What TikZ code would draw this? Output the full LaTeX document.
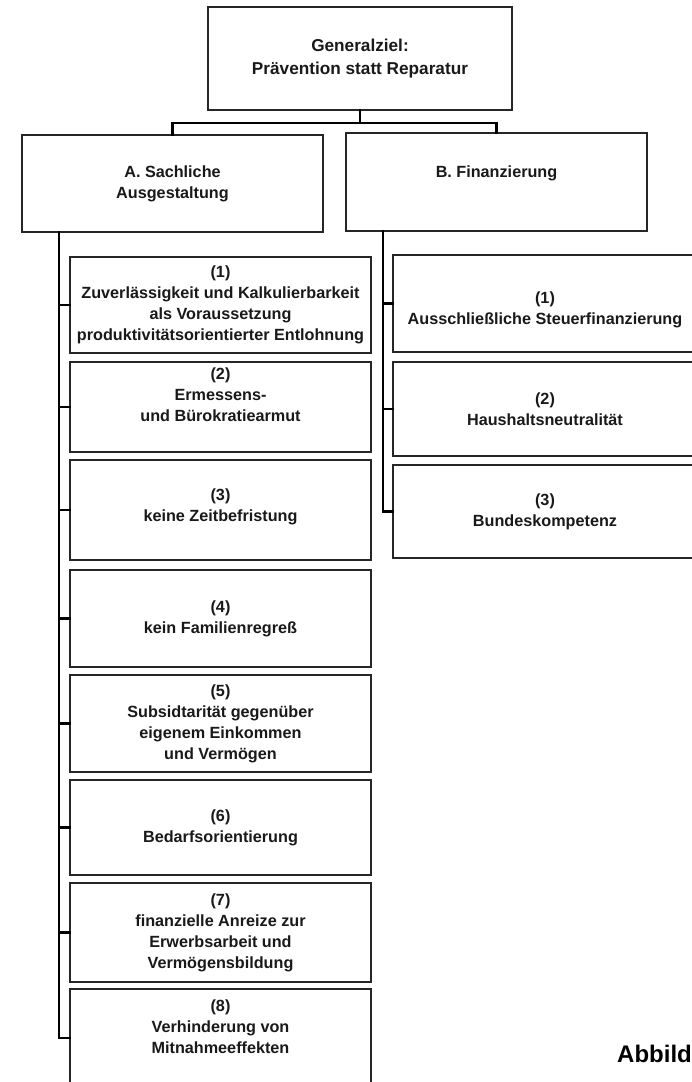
\documentclass[tikz,border=0pt]{standalone}
\usepackage{fontspec}
\setmainfont{Liberation Sans}
\begin{document}
\begin{tikzpicture}[x=1pt,y=-1pt,
  box/.style={draw=black!85,line width=1.2pt,fill=white,inner sep=0pt,align=center,
    font=\bfseries\fontsize{16.2}{21}\selectfont,text=black!90},
  conn/.style={draw=black,line width=2.4pt,line cap=rect}]
\useasboundingbox (0,0) rectangle (692,1082);
\clip (0,0) rectangle (692,1082);
% top
\node[box,minimum width=304,minimum height=103,font=\bfseries\fontsize{17.2}{23}\selectfont] (top) at (360,58.5) {Generalziel:\\Prävention statt Reparatur};
\node[box,minimum width=301,minimum height=97] (A) at (172.5,183.5) {A. Sachliche\\Ausgestaltung};
\node[box,minimum width=301,minimum height=98] (B) at (496.5,182) {B. Finanzierung\\};
% left column
\node[box,minimum width=301,minimum height=96] (L1) at (220.5,305) {(1)\\Zuverlässigkeit und Kalkulierbarkeit\\als Voraussetzung\\produktivitätsorientierter Entlohnung};
\node[box,minimum width=301,minimum height=90] (L2) at (220.5,407) {(2)\\Ermessens-\\und Bürokratiearmut\\[3pt]};
\node[box,minimum width=301,minimum height=100] (L3) at (220.5,510) {(3)\\keine Zeitbefristung\\[-11pt]};
\node[box,minimum width=301,minimum height=97] (L4) at (220.5,618.5) {(4)\\kein Familienregreß};
\node[box,minimum width=301,minimum height=97] (L5) at (220.5,723.5) {(5)\\Subsidtarität gegenüber\\eigenem Einkommen\\und Vermögen};
\node[box,minimum width=301,minimum height=95] (L6) at (220.5,827.5) {(6)\\Bedarfsorientierung};
\node[box,minimum width=301,minimum height=99] (L7) at (220.5,932.5) {(7)\\finanzielle Anreize zur\\Erwerbsarbeit und\\Vermögensbildung};
\node[box,minimum width=301,minimum height=98] (L8) at (220.5,1038) {(8)\\Verhinderung von\\Mitnahmeeffekten\\[1pt]};
% right column
\node[box,minimum width=304,minimum height=97] (R1) at (545,303.5) {\rule{0pt}{12pt}\\[-8pt](1)\\Ausschließliche Steuerfinanzierung};
\node[box,minimum width=304,minimum height=94] (R2) at (545,409) {(2)\\Haushaltsneutralität};
\node[box,minimum width=304,minimum height=93] (R3) at (545,511.5) {(3)\\Bundeskompetenz};
% caption fragment
\node[anchor=base west,inner sep=0pt,font=\bfseries\fontsize{24}{28}\selectfont] (cap) at (617,1062) {Abbild};
% connectors
\coordinate (bar) at (360,123);
\draw[conn] (top.south) -- (bar);
\draw[conn] (A.north) |- (bar) -| (B.north);
\coordinate (abus) at (59,232);
\draw[conn] (abus) |- (L8.west);
\foreach \n in {L1,L2,L3,L4,L5,L6,L7} \draw[conn] (abus |- \n.west) -- (\n.west);
\coordinate (bbus) at (383,231);
\draw[conn] (bbus) |- (R3.west);
\foreach \n in {R1,R2} \draw[conn] (bbus |- \n.west) -- (\n.west);
\end{tikzpicture}
\end{document}
